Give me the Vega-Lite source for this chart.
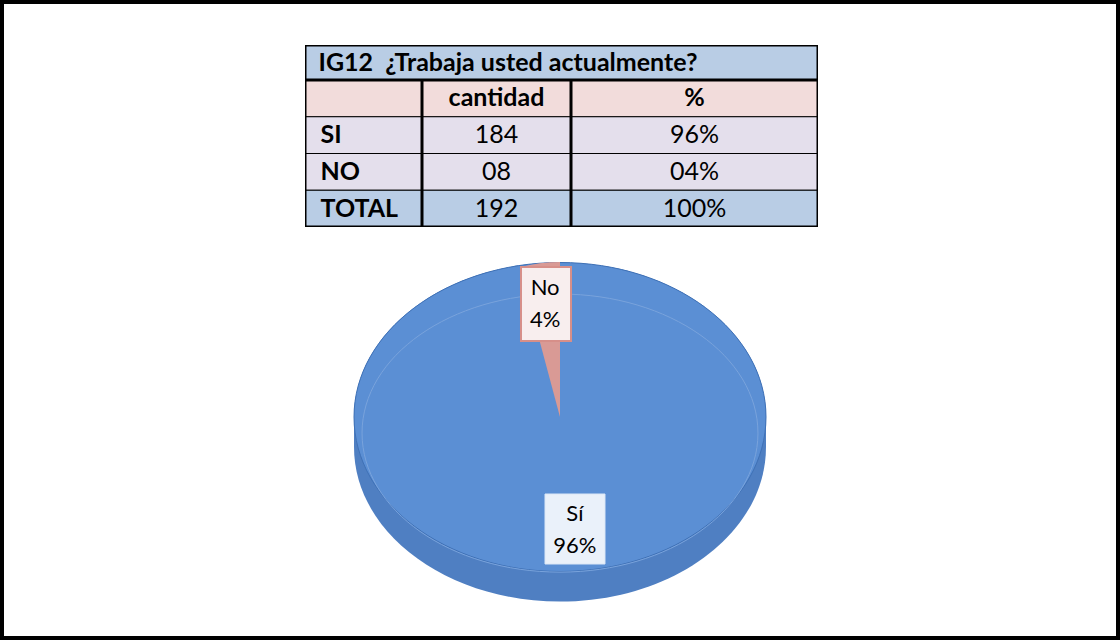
{
  "$schema": "https://vega.github.io/schema/vega-lite/v6.json",
  "background": "black",
  "padding": 4,
  "spacing": 0,
  "config": {"view": {"stroke": null}, "font": "Lato"},
  "datasets": {
    "tabla": [
      {"fila": "encabezado", "etiqueta": "", "cantidad": "cantidad", "porcentaje": "%"},
      {"fila": "SI", "etiqueta": "SI", "cantidad": "184", "porcentaje": "96%"},
      {"fila": "NO", "etiqueta": "NO", "cantidad": "08", "porcentaje": "04%"},
      {"fila": "TOTAL", "etiqueta": "\u00a0TOTAL", "cantidad": "192", "porcentaje": "100%"}
    ],
    "torta": [
      {"respuesta": "Sí", "cantidad": 184, "porcentaje": "96%", "etiqueta": "Sí\n96%"},
      {"respuesta": "No", "cantidad": 8, "porcentaje": "4%", "etiqueta": "No\n4%"}
    ],
    "titulo": [{"titulo": "IG12 \u00a0¿Trabaja usted actualmente?"}]
  },
  "vconcat": [
    {"width": 1112, "height": 41, "view": {"fill": "white", "stroke": null}, "data": {"values": []}, "mark": "rect"},
    {
      "hconcat": [
        {"width": 301, "height": 182, "view": {"fill": "white", "stroke": null}, "data": {"values": []}, "mark": "rect"},
        {
          "vconcat": [
            {
              "width": 513, "height": 35,
              "view": {"fill": "#b9cde5", "stroke": null},
              "data": {"name": "titulo"},
              "layer": [
                {"mark": {"type": "rect", "fill": null, "fillOpacity": 0, "stroke": "black", "strokeWidth": 3, "clip": true}, "encoding": {}},
                {"mark": {"type": "text", "font": "Lato", "fontSize": 25, "fontWeight": "bold", "align": "left", "baseline": "middle", "dx": -243, "fill": "black"},
                 "encoding": {"text": {"field": "titulo"}}}
              ]
            },
            {
              "hconcat": [
                {
                  "width": 117, "height": 147,
                  "view": {"fill": "white", "stroke": null},
                  "data": {"name": "tabla"},
                  "encoding": {"y": {"field": "fila", "type": "nominal", "scale": {"domain": ["encabezado", "SI", "NO", "TOTAL"], "paddingInner": 0, "paddingOuter": 0}, "axis": null}},
                  "layer": [
                    {"mark": {"type": "rect", "stroke": "black", "strokeWidth": 1, "clip": true},
                     "encoding": {"color": {"field": "fila", "type": "nominal", "scale": {"domain": ["encabezado", "SI", "NO", "TOTAL"], "range": ["#f2dcdb", "#e4dfec", "#e4dfec", "#b9cde5"]}, "legend": null}}},
                    {"transform": [{"filter": "datum.fila === 'encabezado'"}],
                     "mark": {"type": "rect", "fill": null, "fillOpacity": 0, "stroke": "black", "strokeWidth": 3, "clip": true},
                     "encoding": {"y": null}},
                    {"mark": {"type": "text", "font": "Lato", "fontSize": 25, "fontWeight": "bold", "align": "left", "baseline": "middle", "dx": -43, "fill": "black"},
                     "encoding": {"text": {"field": "etiqueta"}}}
                  ]
                },
                {
                  "width": 149, "height": 147,
                  "view": {"fill": "white", "stroke": null},
                  "data": {"name": "tabla"},
                  "encoding": {"y": {"field": "fila", "type": "nominal", "scale": {"domain": ["encabezado", "SI", "NO", "TOTAL"], "paddingInner": 0, "paddingOuter": 0}, "axis": null}},
                  "layer": [
                    {"mark": {"type": "rect", "stroke": "black", "strokeWidth": 1, "clip": true},
                     "encoding": {"color": {"field": "fila", "type": "nominal", "scale": {"domain": ["encabezado", "SI", "NO", "TOTAL"], "range": ["#f2dcdb", "#e4dfec", "#e4dfec", "#b9cde5"]}, "legend": null}}},
                    {"transform": [{"filter": "datum.fila === 'encabezado'"}],
                     "mark": {"type": "rect", "fill": null, "fillOpacity": 0, "stroke": "black", "strokeWidth": 3, "clip": true},
                     "encoding": {"y": null}},
                    {"transform": [{"filter": "datum.fila === 'encabezado'"}],
                     "mark": {"type": "text", "font": "Lato", "fontSize": 25, "fontWeight": "bold", "align": "center", "baseline": "middle", "fill": "black"},
                     "encoding": {"text": {"field": "cantidad"}}},
                    {"transform": [{"filter": "datum.fila !== 'encabezado'"}],
                     "mark": {"type": "text", "font": "Lato", "fontSize": 25, "align": "center", "baseline": "middle", "fill": "black"},
                     "encoding": {"text": {"field": "cantidad"}}}
                  ]
                },
                {
                  "width": 247, "height": 147,
                  "view": {"fill": "white", "stroke": null},
                  "data": {"name": "tabla"},
                  "encoding": {"y": {"field": "fila", "type": "nominal", "scale": {"domain": ["encabezado", "SI", "NO", "TOTAL"], "paddingInner": 0, "paddingOuter": 0}, "axis": null}},
                  "layer": [
                    {"mark": {"type": "rect", "stroke": "black", "strokeWidth": 1, "clip": true},
                     "encoding": {"color": {"field": "fila", "type": "nominal", "scale": {"domain": ["encabezado", "SI", "NO", "TOTAL"], "range": ["#f2dcdb", "#e4dfec", "#e4dfec", "#b9cde5"]}, "legend": null}}},
                    {"transform": [{"filter": "datum.fila === 'encabezado'"}],
                     "mark": {"type": "rect", "fill": null, "fillOpacity": 0, "stroke": "black", "strokeWidth": 3, "clip": true},
                     "encoding": {"y": null}},
                    {"transform": [{"filter": "datum.fila === 'encabezado'"}],
                     "mark": {"type": "text", "font": "Lato", "fontSize": 25, "fontWeight": "bold", "align": "center", "baseline": "middle", "fill": "black"},
                     "encoding": {"text": {"field": "porcentaje"}}},
                    {"transform": [{"filter": "datum.fila !== 'encabezado'"}],
                     "mark": {"type": "text", "font": "Lato", "fontSize": 25, "align": "center", "baseline": "middle", "fill": "black"},
                     "encoding": {"text": {"field": "porcentaje"}}}
                  ]
                }
              ],
              "spacing": 0,
              "resolve": {"scale": {"color": "independent"}}
            }
          ],
          "spacing": 0
        },
        {"width": 298, "height": 182, "view": {"fill": "white", "stroke": null}, "data": {"values": []}, "mark": "rect"}
      ],
      "spacing": 0
    },
    {
      "width": 1112, "height": 380,
      "view": {"fill": "white", "stroke": null},
      "data": {"name": "torta"},
      "layer": [
        {"transform": [{"aggregate": [{"op": "sum", "field": "cantidad", "as": "total"}]}],
         "mark": {"type": "point", "filled": true, "opacity": 1, "size": 169744, "fill": "#4f7fc2", "strokeWidth": 0,
                  "shape": "M-1,0 V0.146 A1,0.75 0 0,0 1,0.146 V0 A1,0.75 0 0,0 -1,0 Z"},
         "encoding": {}},
        {"transform": [{"aggregate": [{"op": "sum", "field": "cantidad", "as": "total"}]}],
         "mark": {"type": "point", "filled": true, "opacity": 1, "size": 169744, "fill": "#5b8fd4", "stroke": "#3f71b6", "strokeWidth": 1,
                  "shape": "M-1,0 A1,0.75 0 1,0 1,0 A1,0.75 0 1,0 -1,0 Z"},
         "encoding": {}},
        {"transform": [{"aggregate": [{"op": "sum", "field": "cantidad", "as": "total"}]}],
         "mark": {"type": "point", "filled": false, "opacity": 1, "size": 169744, "stroke": "#79a3dc", "strokeWidth": 1,
                  "shape": "M-0.961,0.078 A0.961,0.675 0 1,0 0.961,0.078 A0.961,0.675 0 1,0 -0.961,0.078 Z"},
         "encoding": {}},
        {"mark": {"type": "arc", "outerRadius": 155, "strokeWidth": 0},
         "encoding": {
           "theta": {"field": "cantidad", "type": "quantitative", "stack": true},
           "order": {"field": "cantidad", "sort": "descending"},
           "color": {"field": "respuesta", "type": "nominal", "scale": {"domain": ["Sí", "No"], "range": ["transparent", "#d99a95"]}, "legend": null}
         }},
        {"transform": [{"filter": "datum.respuesta === 'No'"}],
         "mark": {"type": "point", "filled": true, "opacity": 1, "size": 5476, "fill": "#f8eeee", "stroke": "#d78f89", "strokeWidth": 2,
                  "shape": "M-0.676,-1 H0.676 V1 H-0.676 Z", "xOffset": -14, "yOffset": -113},
         "encoding": {}},
        {"transform": [{"filter": "datum.respuesta === 'Sí'"}],
         "mark": {"type": "point", "filled": true, "opacity": 1, "size": 4900, "fill": "#eaf1fa", "stroke": "#dce7f6", "strokeWidth": 1,
                  "shape": "M-0.857,-1 H0.857 V1 H-0.857 Z", "xOffset": 15, "yOffset": 112},
         "encoding": {}},
        {"mark": {"type": "text", "radius": 114, "font": "Lato", "fontSize": 22, "lineBreak": "\n", "lineHeight": 32, "align": "center", "baseline": "middle", "dy": -16, "fill": "black"},
         "encoding": {
           "theta": {"field": "cantidad", "type": "quantitative", "stack": true},
           "order": {"field": "cantidad", "sort": "descending"},
           "text": {"field": "etiqueta"}
         }}
      ]
    },
    {"width": 1112, "height": 29, "view": {"fill": "white", "stroke": null}, "data": {"values": []}, "mark": "rect"}
  ]
}
